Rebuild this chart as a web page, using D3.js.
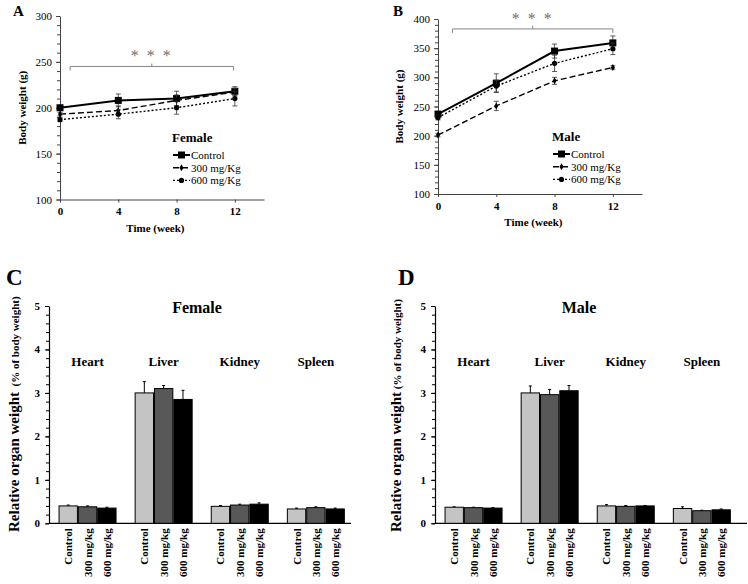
<!DOCTYPE html>
<html><head><meta charset="utf-8">
<script src="https://cdn.jsdelivr.net/npm/d3@7"></script>
<style>
body{margin:0;background:#fff;}
svg{font-family:"Liberation Serif","Times New Roman",serif;}
</style></head>
<body><svg id="c" width="748" height="584"></svg>
<script>
// ---- data ----
const weeks = [0, 4, 8, 12];
const lineSeries = ["Control", "300 mg/Kg", "600 mg/Kg"];
const femaleWeight = [200, 208, 210, 218];
const femaleWeight300 = [193, 197, 208, 217];
const femaleWeight600 = [187, 193, 200, 210];
const femaleWeightErr = [2, 7, 8, 5];
const femaleWeightErr300 = [2, 5, 6, 4];
const femaleWeightErr600 = [2, 5, 7, 8];
const maleWeight = [237, 290, 345, 359];
const maleWeight300 = [201, 251, 294, 317];
const maleWeight600 = [231, 285, 324, 349];
const maleWeightErr = [4, 16, 12, 12];
const maleWeightErr300 = [3, 8, 6, 3];
const maleWeightErr600 = [4, 10, 14, 10];
const femaleTicksY = [100, 150, 200, 250, 300];
const maleTicksY = [100, 150, 200, 250, 300, 350, 400];

const organs = ["Heart", "Liver", "Kidney", "Spleen"];
const doses = ["Control", "300 mg/kg", "600 mg/kg"];
const femaleOrgan = [0.40, 3.00, 0.39, 0.33];
const femaleOrgan300 = [0.38, 3.10, 0.42, 0.36];
const femaleOrgan600 = [0.35, 2.85, 0.44, 0.33];
const femaleOrganErr = [0.02, 0.26, 0.02, 0.02];
const femaleOrganErr300 = [0.02, 0.07, 0.02, 0.02];
const femaleOrganErr600 = [0.02, 0.21, 0.03, 0.02];
const maleOrgan = [0.37, 3.00, 0.40, 0.34];
const maleOrgan300 = [0.36, 2.96, 0.39, 0.29];
const maleOrgan600 = [0.35, 3.05, 0.40, 0.31];
const maleOrganErr = [0.01, 0.16, 0.03, 0.04];
const maleOrganErr300 = [0.01, 0.12, 0.02, 0.01];
const maleOrganErr600 = [0.01, 0.12, 0.01, 0.02];
const organTicksY = [0, 1, 2, 3, 4, 5];

const svg = d3.select("#c");

// ---- line panels ----
function linePanel(o) {
  const g = svg.append("g");
  const x = d3.scaleLinear().domain([0, 14]).range([o.x0, o.x1]);
  const y = d3.scaleLinear().domain([o.ymin, o.ymax]).range([o.y0, o.y1]);
  g.append("g").attr("transform", `translate(${o.x0},0)`)
    .call(d3.axisLeft(y).tickValues(d3.range(o.ymin, o.ymax + 1, 10)).tickSize(3).tickFormat(""))
    .call(s => s.select(".domain").remove());
  const ya = g.append("g").attr("transform", `translate(${o.x0},0)`)
    .call(d3.axisLeft(y).tickValues(o.ticks).tickSize(4).tickSizeOuter(0).tickPadding(4));
  ya.selectAll("text").attr("font-size", 11).attr("font-family", "Liberation Serif");
  const xa = g.append("g").attr("transform", `translate(0,${o.y0})`)
    .call(d3.axisBottom(x).tickValues(weeks).tickSize(3).tickSizeOuter(0).tickPadding(5).tickFormat(d3.format("d")));
  xa.selectAll("text").attr("font-size", 11).attr("font-family", "Liberation Serif").attr("font-weight", "bold");
  g.selectAll(".domain").attr("stroke", "#444");
  g.selectAll(".tick line").attr("stroke", "#444");

  const styles = [
    { dash: null, w: 2 },
    { dash: "6,3", w: 1.4 },
    { dash: "2,2", w: 1.4 }
  ];
  const line = d3.line().x((d, i) => x(weeks[i])).y(d => y(d));
  o.series.forEach((s, k) => {
    s.forEach((v, i) => {
      const e = o.errs[k][i];
      const cx = x(weeks[i]);
      g.append("line").attr("x1", cx).attr("x2", cx).attr("y1", y(v - e)).attr("y2", y(v + e)).attr("stroke", "#333").attr("stroke-width", 0.8);
      g.append("line").attr("x1", cx - 2.5).attr("x2", cx + 2.5).attr("y1", y(v + e)).attr("y2", y(v + e)).attr("stroke", "#333").attr("stroke-width", 0.8);
      g.append("line").attr("x1", cx - 2.5).attr("x2", cx + 2.5).attr("y1", y(v - e)).attr("y2", y(v - e)).attr("stroke", "#333").attr("stroke-width", 0.8);
    });
    g.append("path").datum(s).attr("d", line).attr("fill", "none").attr("stroke", "#000")
      .attr("stroke-width", styles[k].w).attr("stroke-dasharray", styles[k].dash);
    s.forEach((v, i) => marker(g, k, x(weeks[i]), y(v)));
  });

  const by = y(o.bracketVal);
  const bx0 = x(o.bracketFrom), bx1 = x(o.bracketTo), bm = (bx0 + bx1) / 2;
  g.append("path").attr("d", `M${bx0},${by + 4}V${by}H${bx1}V${by + 4}M${bm},${by}V${by - 3}`)
    .attr("fill", "none").attr("stroke", "#777").attr("stroke-width", 0.9);
  g.append("text").attr("x", bm).attr("y", by - 5).attr("text-anchor", "middle")
    .attr("font-size", 16).attr("fill", "#707070").attr("letter-spacing", 2).text("* * *");

  g.append("text").attr("x", o.lx).attr("y", o.ly).attr("font-size", 13).attr("font-weight", "bold").text(o.sex);
  lineSeries.forEach((name, k) => {
    const ry = o.ly + 13 + k * 12.7;
    g.append("line").attr("x1", o.lx + 1).attr("x2", o.lx + 18).attr("y1", ry).attr("y2", ry)
      .attr("stroke", "#000").attr("stroke-width", styles[k].w).attr("stroke-dasharray", styles[k].dash);
    marker(g, k, o.lx + 9.5, ry);
    g.append("text").attr("x", o.lx + 19).attr("y", ry + 4).attr("font-size", 11).text(name);
  });

  g.append("text").attr("transform", `translate(${o.ylabX},${(o.y0 + o.y1) / 2}) rotate(-90)`)
    .attr("text-anchor", "middle").attr("font-size", 11).attr("font-weight", "bold").text("Body weight (g)");
  g.append("text").attr("x", (x(0) + x(12)) / 2 + 8).attr("y", o.y0 + 32).attr("text-anchor", "middle")
    .attr("font-size", 11).attr("font-weight", "bold").text("Time (week)");
  g.append("text").attr("x", o.letterX).attr("y", 16).attr("font-size", 15).attr("font-weight", "bold").text(o.letter);
}

function marker(g, k, cx, cy) {
  if (k === 0) {
    g.append("rect").attr("x", cx - 3.5).attr("y", cy - 3.5).attr("width", 7).attr("height", 7).attr("fill", "#000");
  } else if (k === 1) {
    g.append("path").attr("d", d3.symbol(d3.symbolDiamond, 14)()).attr("transform", `translate(${cx},${cy})`).attr("fill", "#000");
  } else {
    g.append("circle").attr("cx", cx).attr("cy", cy).attr("r", 2.6).attr("fill", "#000");
  }
}

linePanel({
  x0: 60, x1: 264, y0: 199.5, y1: 16, ymin: 100, ymax: 300, ticks: femaleTicksY,
  series: [femaleWeight, femaleWeight300, femaleWeight600],
  errs: [femaleWeightErr, femaleWeightErr300, femaleWeightErr600],
  bracketVal: 245, bracketFrom: 0.7, bracketTo: 11.9,
  lx: 172, ly: 142, sex: "Female", ylabX: 26, letter: "A", letterX: 13
});
linePanel({
  x0: 438, x1: 642, y0: 194, y1: 19, ymin: 100, ymax: 400, ticks: maleTicksY,
  series: [maleWeight, maleWeight300, maleWeight600],
  errs: [maleWeightErr, maleWeightErr300, maleWeightErr600],
  bracketVal: 383, bracketFrom: 1, bracketTo: 12,
  lx: 552, ly: 141, sex: "Male", ylabX: 403, letter: "B", letterX: 393
});

// ---- bar panels ----
const barColors = ["#c4c4c4", "#585858", "#000000"];
function barPanel(o) {
  const g = svg.append("g");
  const x = d3.scaleBand().domain(organs).range([o.x0 + 0.5, o.x0 + 0.5 + 4 * 76.1]).padding(0);
  const xs = d3.scaleBand().domain(doses).range([-28.5, 28.5]).paddingInner(0.05);
  const y = d3.scaleLinear().domain([0, 5]).range([523.3, 306]);

  g.append("g").attr("transform", `translate(${o.x0},0)`)
    .call(d3.axisLeft(y).tickValues(d3.range(0, 5.01, 0.2)).tickSize(3).tickFormat(""))
    .call(s => s.select(".domain").remove());
  const ya = g.append("g").attr("transform", `translate(${o.x0},0)`)
    .call(d3.axisLeft(y).tickValues(organTicksY).tickSize(4).tickSizeOuter(0).tickPadding(5).tickFormat(d3.format("d")));
  ya.selectAll("text").attr("font-size", 11).attr("font-weight", "bold").attr("font-family", "Liberation Serif");
  g.append("line").attr("x1", o.x0).attr("x2", o.xEnd).attr("y1", y(0)).attr("y2", y(0)).attr("stroke", "#000").attr("stroke-width", 1.2);
  g.selectAll(".domain").attr("stroke", "#000").attr("stroke-width", 1.2);

  o.vals.forEach((arr, k) => {
    arr.forEach((v, i) => {
      const cx = x(organs[i]) + x.bandwidth() / 2 + xs(doses[k]) + xs.bandwidth() / 2;
      const e = o.errs[k][i];
      g.append("line").attr("x1", cx).attr("x2", cx).attr("y1", y(v)).attr("y2", y(v + e)).attr("stroke", "#000").attr("stroke-width", 1);
      g.append("line").attr("x1", cx - 1.5).attr("x2", cx + 1.5).attr("y1", y(v + e)).attr("y2", y(v + e)).attr("stroke", "#000").attr("stroke-width", 1);
      g.append("rect").attr("x", cx - xs.bandwidth() / 2).attr("y", y(v)).attr("width", xs.bandwidth())
        .attr("height", y(0) - y(v)).attr("fill", barColors[k]).attr("stroke", "#000").attr("stroke-width", 1);
      g.append("text").attr("transform", `translate(${cx + 4},${y(0) + 5}) rotate(-90)`)
        .attr("text-anchor", "end").attr("font-size", 11).attr("font-weight", "bold").text(doses[k]);
    });
  });
  organs.forEach(name => {
    g.append("text").attr("x", x(name) + x.bandwidth() / 2).attr("y", 366).attr("text-anchor", "middle")
      .attr("font-size", 13).attr("font-weight", "bold").text(name);
  });
  g.append("text").attr("x", o.titleX).attr("y", 313).attr("text-anchor", "middle")
    .attr("font-size", 16).attr("font-weight", "bold").text(o.sex);
  const yl = g.append("text").attr("transform", `translate(${o.ylabX},532) rotate(-90)`).attr("font-weight", "bold");
  yl.append("tspan").attr("font-size", 15).text("Relative organ weight");
  yl.append("tspan").attr("font-size", 11).text(o.gap + "(% of body weight)");
  g.append("text").attr("x", o.letterX).attr("y", 285).attr("font-size", 23).attr("font-weight", "bold").text(o.letter);
}

barPanel({
  x0: 49, xEnd: 351, sex: "Female", titleX: 197,
  vals: [femaleOrgan, femaleOrgan300, femaleOrgan600],
  errs: [femaleOrganErr, femaleOrganErr300, femaleOrganErr600],
  ylabX: 19, letter: "C", letterX: 6, gap: "\u00a0\u00a0"
});
barPanel({
  x0: 435, xEnd: 747, sex: "Male", titleX: 579,
  vals: [maleOrgan, maleOrgan300, maleOrgan600],
  errs: [maleOrganErr, maleOrganErr300, maleOrganErr600],
  ylabX: 401, letter: "D", letterX: 398, gap: "\u00a0"
});
</script>
</body></html>
